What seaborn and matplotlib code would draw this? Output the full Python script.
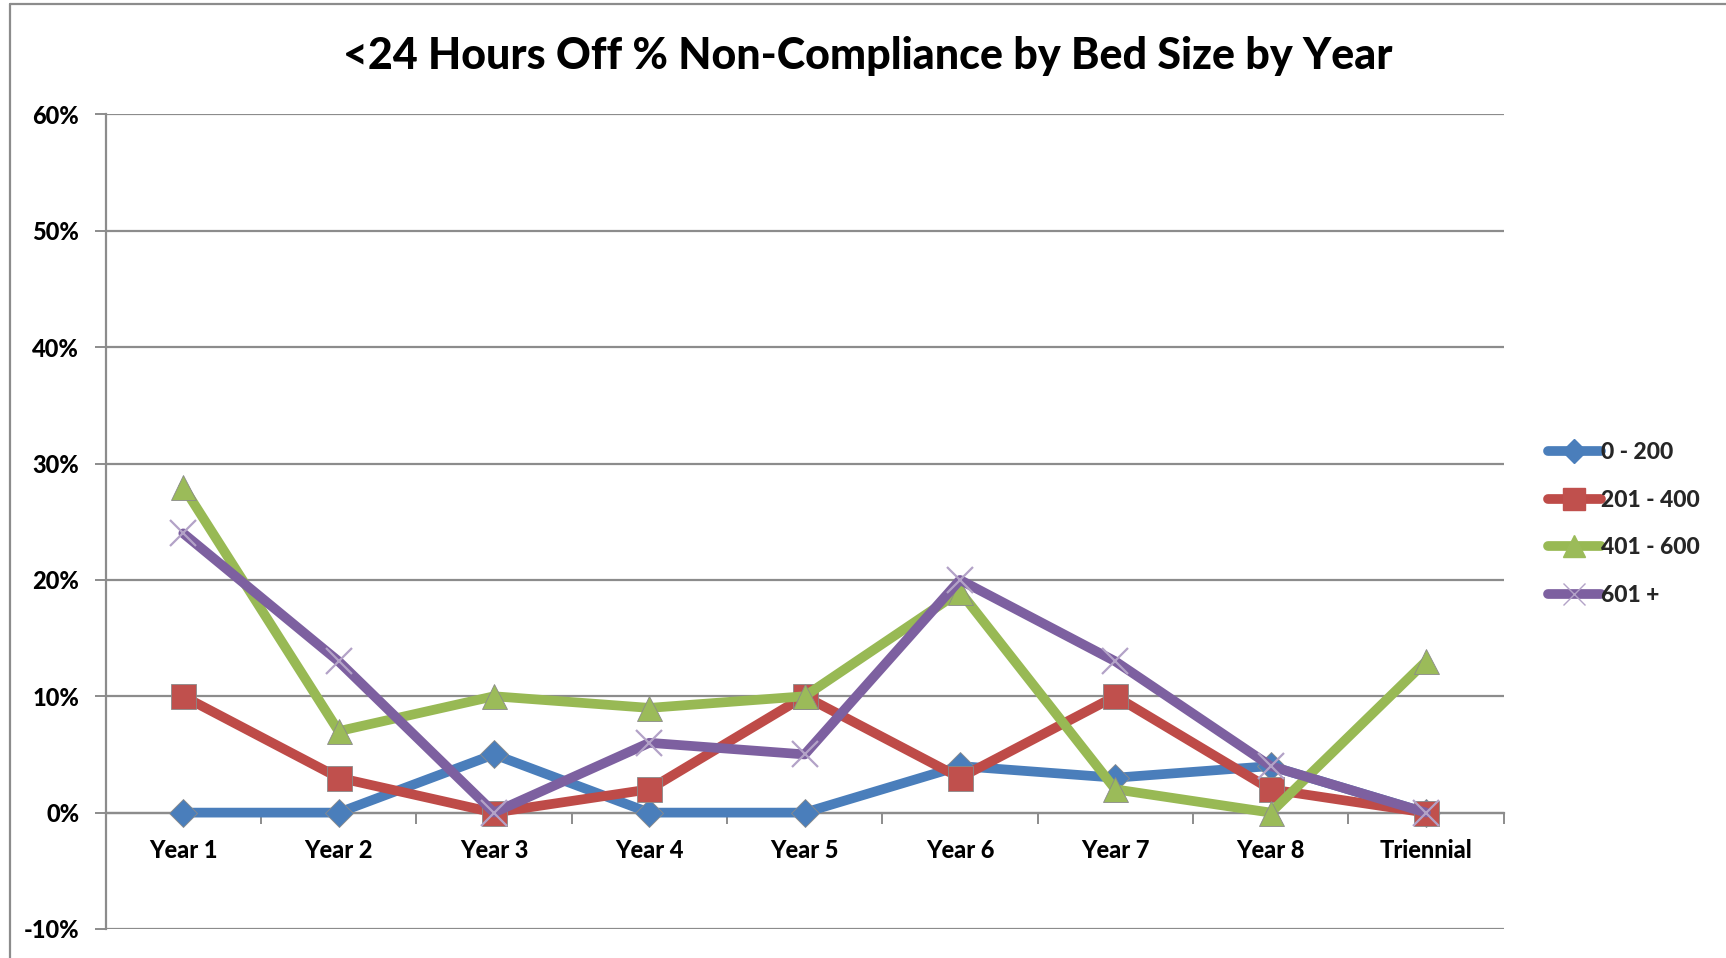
import matplotlib
matplotlib.use("Agg")
import matplotlib.pyplot as plt
from matplotlib.lines import Line2D
from matplotlib.ticker import FixedLocator, FuncFormatter
import seaborn as sns
import pandas as pd

categories = ["Year 1", "Year 2", "Year 3", "Year 4", "Year 5", "Year 6", "Year 7", "Year 8", "Triennial"]
s_0_200 = [0, 0, 5, 0, 0, 4, 3, 4, 0]
s_201_400 = [10, 3, 0, 2, 10, 3, 10, 2, 0]
s_401_600 = [28, 7, 10, 9, 10, 19, 2, 0, 13]
s_601_plus = [24, 13, 0, 6, 5, 20, 13, 4, 0]
series_names = ["0 - 200", "201 - 400", "401 - 600", "601 +"]
y_ticks = [-10, 0, 10, 20, 30, 40, 50, 60]
title = "<24 Hours Off % Non-Compliance by Bed Size by Year"

colors = ["#4A7EBB", "#BE4B48", "#98B954", "#7D60A0"]
markers = ["D", "s", "^", "x"]
msizes = [14, 18, 18, 19]
mcolors = ["#4A7EBB", "#C0504D", "#9BBB59", "#B3A2C7"]

sns.set_theme(style="white")
plt.rcParams["font.family"] = ["Lato", "DejaVu Sans"]

rows = []
for name, vals in zip(series_names, [s_0_200, s_201_400, s_401_600, s_601_plus]):
    for i, v in enumerate(vals):
        rows.append({"pos": i, "value": v, "series": name})
df = pd.DataFrame(rows)

fig = plt.figure(figsize=(17.26, 9.58), dpi=100)
ax = fig.add_axes([0.0612, 0.0303, 0.8100, 0.8502])

for name, col, mk, ms, mc in zip(series_names, colors, markers, msizes, mcolors):
    sub = df[df["series"] == name]
    sns.lineplot(data=sub, x="pos", y="value", ax=ax, color=col, linewidth=7,
                 marker=mk, markersize=ms, markerfacecolor=mc,
                 markeredgecolor=("#B3A2C7" if mk == "x" else "#8a8a8a"),
                 markeredgewidth=(1.6 if mk == "x" else 0.6), legend=False,
                 solid_capstyle="round", solid_joinstyle="round")

ax.set_xlim(-0.5, len(categories) - 0.5)
ax.set_ylim(min(y_ticks), max(y_ticks))
ax.set_yticks(y_ticks)
ax.yaxis.set_major_formatter(FuncFormatter(lambda v, p: f"{int(v)}%"))
ax.set_xticks(range(len(categories)))
ax.set_xticklabels(categories)
ax.xaxis.set_minor_locator(FixedLocator([i - 0.5 for i in range(len(categories) + 1)]))
ax.grid(axis="y", color="#8C8C8C", linewidth=1.6)
ax.grid(axis="x", visible=False)
ax.set_axisbelow(True)
ax.set_xlabel("")
ax.set_ylabel("")

for s in ["top", "right"]:
    ax.spines[s].set_visible(False)
ax.spines["bottom"].set_position(("data", 0))
ax.spines["bottom"].set_color("#8C8C8C")
ax.spines["bottom"].set_linewidth(1.6)
ax.spines["left"].set_color("#8C8C8C")
ax.spines["left"].set_linewidth(1.6)
ax.spines["bottom"].set_zorder(0.5)

ax.tick_params(axis="x", which="major", length=0, pad=19, labelsize=17)
ax.tick_params(axis="x", which="minor", length=8, width=1.4, color="#8C8C8C", direction="out", bottom=True)
ax.tick_params(axis="y", which="major", length=8, width=1.4, color="#8C8C8C", direction="out", left=True, pad=11, labelsize=17)
for lab in ax.get_xticklabels() + ax.get_yticklabels():
    lab.set_fontweight("black")
    lab.set_color("black")

fig.text(0.503, 0.942, title, ha="center", va="center", fontsize=31, fontweight="black", color="black")

handles = [Line2D([0], [0], color=c, lw=7, marker=m, markersize=ms * 0.85, markerfacecolor=mc,
                  markeredgecolor=("#B3A2C7" if m == "x" else mc), solid_capstyle="round")
           for c, m, ms, mc in zip(colors, markers, msizes, mcolors)]
leg = fig.legend(handles, series_names, loc="center left", bbox_to_anchor=(0.885, 0.453),
                 frameon=False, handlelength=2.3, handletextpad=0.0, labelspacing=1.15,
                 prop={"weight": "black", "size": 16.5})

# outer chart frame
fig.add_artist(Line2D([0.0058, 0.0058], [0.0, 0.996], transform=fig.transFigure, color="#8C8C8C", lw=1.6))
fig.add_artist(Line2D([0.0058, 1.0], [0.996, 0.996], transform=fig.transFigure, color="#8C8C8C", lw=1.6))

fig.savefig("out.png", dpi=100)
